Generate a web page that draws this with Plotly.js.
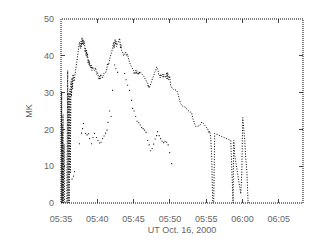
<!DOCTYPE html>
<html><head><meta charset="utf-8">
<script src="https://cdn.plot.ly/plotly-3.0.1.min.js"></script>
<style>html,body{margin:0;padding:0;background:#fff}#chart{width:320px;height:240px}</style>
</head><body><div id="chart"></div>
<script>
// minutes after 05:35 UT
const mainT = [0.00,0.03,0.06,0.09,0.12,0.15,0.18,0.21,0.24,0.27,0.30,0.42,0.46,0.50,
0.80,0.84,0.88,0.92,0.96,1.00,1.04,1.08,1.12,1.16,1.20,1.24,1.28,1.31,1.38,1.45,1.52,1.59,1.66,1.80,1.93,2.07,2.14,2.28,2.41,2.55,2.69,2.76,2.83,2.90,2.97,3.04,3.10,3.17,3.24,3.31,3.38,3.45,3.52,3.59,3.66,3.73,3.80,3.87,3.93,4.00,4.07,4.14,4.20,4.27,4.34,4.48,4.62,4.76,4.90,5.03,5.17,5.24,5.31,5.38,5.45,5.59,5.72,5.86,6.00,6.14,6.28,6.41,6.55,6.69,6.83,6.97,7.10,7.24,7.31,7.38,7.45,7.52,7.59,7.66,7.79,7.93,8.07,8.14,8.20,8.27,8.34,8.48,8.62,8.76,8.90,9.03,9.17,9.31,9.45,9.58,9.72,9.86,10.00,10.07,10.14,10.28,10.34,10.41,10.55,10.62,10.69,10.76,10.83,10.97,11.10,11.24,11.38,11.52,11.66,11.79,11.93,12.00,12.07,12.14,12.21,12.34,12.48,12.62,12.76,12.90,13.03,13.17,13.31,13.45,13.59,13.66,13.72,13.86,14.00,14.07,14.14,14.28,14.41,14.55,14.62,14.69,14.76,14.83,14.97,15.10,15.24,15.38,15.52,15.66,15.79,15.93,16.07,16.21,16.34,16.48,16.62,16.76,16.90,17.03,17.17,17.31,17.45,17.59,17.72,17.86,18.00,18.14,18.28,18.41,18.55,18.69,18.83,18.97,19.10,19.24,19.38,19.52,19.66,19.79,19.93,20.07,20.21,20.34,20.48,20.62,20.76,20.83,20.90,21.03,21.10,21.17,
23.38,23.52,23.61,23.70,23.79,23.93,24.76,24.90,25.03,25.17,25.31,25.45,25.60,25.77,25.95,26.10,26.32,33.3];
const mainV = [0,22,0,30,0,21,0,15,0,24,0,16,10,0,
0,28,0,36,0,29,0,30,0,27,0,31,8,28,33,29,34,31,35,33,35,36,37,40.7,42,43.7,42,44,42.5,45,43,44.5,43,44,43.5,41,42,40,41.5,39.5,40.7,38,39,37.5,38.5,37,37.5,36.5,37.5,36,37,36.5,36,36.8,35,35.5,34.5,33.5,34.5,33.5,35,34.5,34,35,35.5,35.5,36,38,37.5,39,40,40.5,42,43.7,42,43,44.5,43,44,42.5,43.5,44,44.8,43,42,43,41.5,41,40,40.5,41,40,40.5,39,38,37.5,37,36.5,36,35,35.5,36,35,36,35.5,34.8,35.5,35,35.8,35.5,35,35,34.5,34,33.5,33,32.5,31.5,32,31.2,31.5,32.5,33,34,34.5,35.5,36,37,36.5,35,35,34,35,34.5,35,34,35,34.5,34,35.5,33.5,35.5,34,33.5,34.5,32,31.4,31,30.8,30.8,30.6,30.6,30,28.5,27.9,27,26.5,26.3,26.2,26.2,26,25.5,25.2,25,24.8,24.7,24.6,23,22,21.2,20.8,20.8,20.8,20.8,21,21.5,22,21.9,21.5,21,20.6,20.4,20.2,19,19.5,17.8,12,6,0,
0,6,18.9,17,8,0,0,17,13,2.5,8,23.2,20.5,17,12,8.7,0,0];

const lowT = [1.52,1.72,1.86,2.55,2.83,2.97,3.10,3.38,3.59,3.80,3.93,4.20,4.41,4.62,4.90,5.10,5.31,5.52,5.72,5.93,6.14,6.34,6.48,6.69,6.90,7.10,7.38,7.55,7.79,
8.76,8.97,9.17,9.45,9.72,9.86,10.07,10.28,10.48,10.69,10.90,11.10,11.31,11.52,11.72,11.93,12.14,12.34,12.55,12.76,12.97,13.17,13.31,13.52,13.72,13.93,14.14,14.34,14.55,14.76,14.97,15.24];
const lowV = [6.5,7.3,8.5,16.1,19,20.2,21.6,18.9,18.5,18.8,17.5,16.1,17.8,18.9,17.8,17,16.3,16.5,17.5,18.2,19,19.8,21.9,25,23.5,30.6,37.5,36.5,35.5,
35.2,33.5,32,30.6,27.9,25.7,25,23.5,22.2,21.8,21.2,20.5,20.2,19.8,19.2,17,15.8,14.2,14.8,16,17.4,18.3,19.4,18.3,17.5,16.8,16.4,16.8,16.5,15.8,13.7,10.7];

const xTickVals = [0,5,10,15,20,25,30];
const xTickText = ['05:35','05:40','05:45','05:50','05:55','06:00','06:05'];
const yTickVals = [0,10,20,30,40,50];
const yTickText = ['0','10','20','30','40','50'];

const font = {family:'Liberation Sans, Arial, sans-serif', size:9, color:'#666'};

const traces = [
  {x: mainT, y: mainV, type:'scatter', mode:'lines',
   line:{color:'#000', width:1, dash:'1px,1.6px'}, hoverinfo:'skip'},
  {x: lowT, y: lowV, type:'scatter', mode:'markers',
   marker:{color:'#222', size:1.1, symbol:'square', line:{width:0}}, hoverinfo:'skip'}
];

const axisCommon = {showgrid:false, zeroline:false, showline:false, ticks:'inside', ticklen:4,
  tickwidth:1, tickcolor:'#444', mirror:'ticks', tickfont:font};

const layout = {
  width:320, height:240, showlegend:false,
  paper_bgcolor:'#fff', plot_bgcolor:'#fff',
  margin:{l:61, r:17, t:19, b:37},
  xaxis: Object.assign({}, axisCommon, {range:[0,33.33], tickvals:xTickVals, ticktext:xTickText,
    ticklabelstandoff:9,
    title:{text:'UT Oct. 16, 2000', font:font, standoff:3}}),
  yaxis: Object.assign({}, axisCommon, {range:[0,50], tickvals:yTickVals, ticktext:yTickText,
    ticklabelstandoff:6,
    title:{text:'MK', font:font, standoff:9}}),
  shapes:[{type:'rect', xref:'paper', yref:'paper', x0:0, x1:1, y0:0, y1:1,
    line:{color:'#000', width:1, dash:'1px,1px'}}]
};

Plotly.newPlot('chart', traces, layout, {staticPlot:true, displayModeBar:false});
</script></body></html>
